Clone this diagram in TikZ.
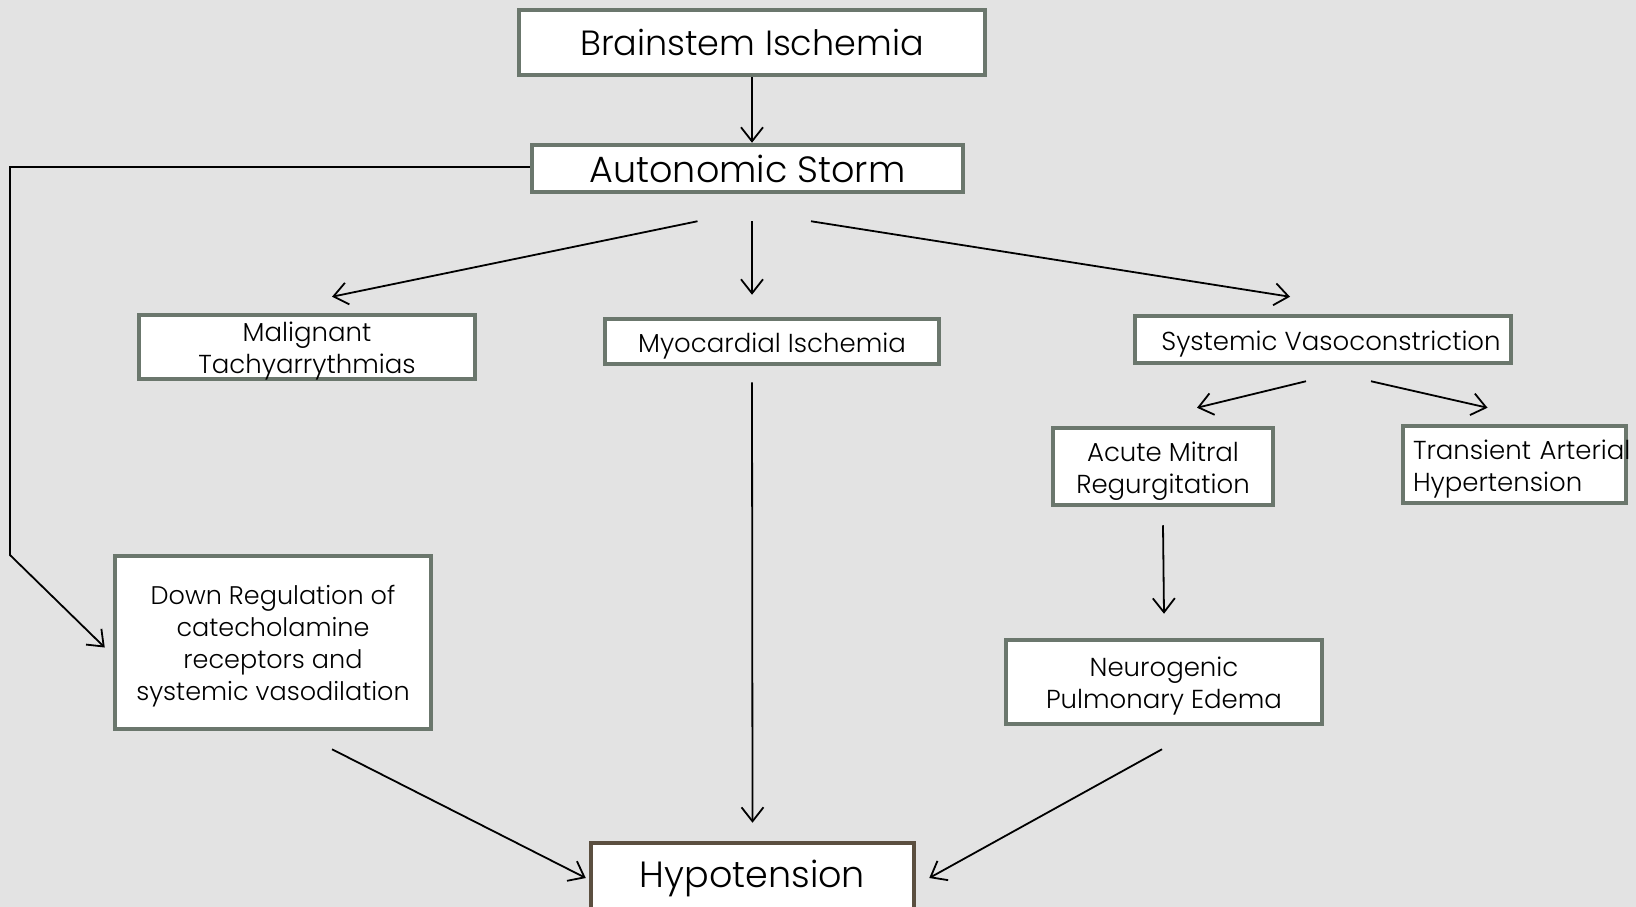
\documentclass[tikz,border=0pt]{standalone}
\usepackage{fontspec}
\setmainfont{Poppins}[UprightFont=* Light]
\usetikzlibrary{arrows.meta}

\definecolor{slidebg}{HTML}{E3E3E3}
\definecolor{boxline}{HTML}{6B776D}
\definecolor{hypoline}{HTML}{5B4F40}

% pushes the text of a box a little down
\newcommand{\lowr}[1]{\rule{0pt}{\dimexpr\fontcharht\font`l+#1\relax}}

\tikzset{
  box/.style={draw=boxline, line width=4.5pt, fill=white, align=center, inner sep=0pt},
  bigtxt/.style={font=\fontsize{35}{40}\selectfont},
  smalltxt/.style={font=\fontsize{26}{32}\selectfont},
  arr/.style={-{Straight Barb[length=14pt,width=22pt]}, line width=1.8pt}
}

\begin{document}
\begin{tikzpicture}[x=1pt,y=-1pt]

\clip (0,0) rectangle (1636,907);
\fill [slidebg] (0,0) rectangle (1636,907);

% top of the chain
\node [box, bigtxt, minimum width=466pt, minimum height=65pt] (brain) at (752,42.5) {Brainstem Ischemia};
\node [box, minimum width=431pt, minimum height=47pt, font=\fontsize{36.5}{40}\selectfont] (storm) at (747.5,168.5) {Autonomic Storm};

% effects of the storm
\node [box, smalltxt, minimum width=336pt, minimum height=64pt] (tachy) at (307,347) {\lowr{2pt}Malignant\\\smash{Tachyarrythmias}};
\node [box, smalltxt, minimum width=334pt, minimum height=45pt] (myo) at (772,341.5) {\lowr{9pt}Myocardial Ischemia};
\node [box, smalltxt, minimum width=376pt, minimum height=47pt] (vaso) at (1323,339.5) {\lowr{9pt}\hspace{16pt}Systemic Vasoconstriction};

% vasoconstriction branch
\node [box, smalltxt, minimum width=220pt, minimum height=77pt] (mitral) at (1163,466.5) {\lowr{9pt}Acute Mitral\\Regurgitation};
\node [box, smalltxt, minimum width=223pt, minimum height=77pt, text width=203pt, align=left] (transient) at (1514.5,464.5) {\lowr{9pt}\mbox{Transient Arterial}\\Hypertension};
\node [box, smalltxt, minimum width=316pt, minimum height=84pt] (neuro) at (1164,682) {\lowr{9pt}Neurogenic\\Pulmonary Edema};

\node [box, smalltxt, minimum width=316pt, minimum height=173pt, font=\fontsize{25.5}{32}\selectfont] (down) at (273,642.5) {\lowr{9pt}Down Regulation of\\catecholamine\\receptors and\\systemic vasodilation};

% outcome
\node [box, draw=hypoline, minimum width=323pt, minimum height=66pt, font=\fontsize{36.5}{40}\selectfont] (hypo) at (752.5,876) {\lowr{6pt}Hypotension};

\coordinate (bend) at (10,555);

\draw [arr] (brain.south) -- (brain.south |- storm.north);

\draw [arr] ([xshift=-50pt,yshift=-27pt]storm.south) -- ([xshift=25pt,yshift=16pt]tachy.north);
\draw [arr] ([xshift=4.5pt,yshift=-27pt]storm.south) -- ([xshift=-20pt,yshift=22pt]myo.north);
\draw [arr] ([xshift=63.5pt,yshift=-27pt]storm.south) -- ([xshift=-33pt,yshift=17pt]vaso.north);

\draw [arr] ([xshift=-17pt,yshift=-16pt]vaso.south) -- ([xshift=34pt,yshift=18pt]mitral.north);
\draw [arr] ([xshift=48pt,yshift=-16pt]vaso.south) -- ([xshift=-27pt,yshift=16pt]transient.north);

\draw [arr] ([yshift=-18pt]mitral.south) -- ([yshift=24pt]neuro.north);

% long way round on the left
\draw [arr] ([yshift=1.5pt]storm.west) -| (bend) -- ([xshift=-8pt,yshift=-5pt]down.west);

% into hypotension
\draw [arr] ([xshift=-20pt,yshift=-16pt]myo.south) -- ([yshift=18pt]hypo.north);
\draw [arr] ([xshift=59pt,yshift=-18pt]down.south) -- ([xshift=-3pt,yshift=-2pt]hypo.west);
\draw [arr] ([xshift=-2pt,yshift=-23pt]neuro.south) -- ([xshift=13pt,yshift=-2pt]hypo.east);

\end{tikzpicture}
\end{document}
